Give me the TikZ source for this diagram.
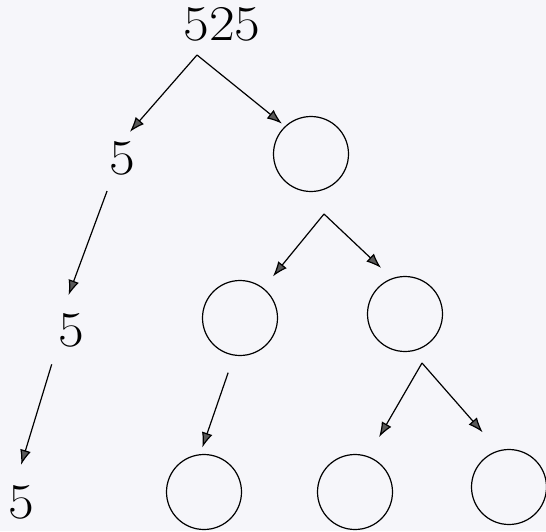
\documentclass[tikz,border=0pt]{standalone}
\usepackage{fontspec}
\setmainfont{Latin Modern Roman}[FakeStretch=1.12]
\usepackage{xcolor}
\usetikzlibrary{arrows.meta}
\definecolor{paper}{RGB}{246,246,250}
\tikzset{
  num/.style={inner sep=0pt, font=\fontsize{50}{60}\selectfont},
  blank/.style={draw, circle, minimum size=75pt, line width=1.2pt, inner sep=0pt},
  arr/.style={line width=1.2pt, -{Latex[length=15pt,width=11pt,fill=black!65]}},
}
\begin{document}
\begin{tikzpicture}[x=1pt,y=-1pt]
\fill[paper] (0,0) rectangle (546,531);
\useasboundingbox (0,0) rectangle (546,531);
% numbers
\node[num] (top) at (222,24) {525};
\foreach \n/\x/\y in {f1/122/158,f2/71/330,f3/21/502}{
    \node[num] (\n) at (\x,\y) {5};
}
% empty circles
\foreach \n/\x/\y in {c1/311/154,c2/240/318,c3/405/314,c4/204/492,c5/355/492,c6/509/487}{
    \node[blank] (\n) at (\x,\y) {};
}
% forks
\coordinate (k1) at (197,55);
\coordinate (k2) at (324,214);
\coordinate (k3) at (422,363);
\draw[arr, shorten >=12pt] (k1) -- (f1.north);
\draw[arr, shorten >=4pt] (k1) -- (c1.133);
\draw[arr, shorten <=17pt, shorten >=19pt] ([xshift=4pt]f1.south west) -- ([xshift=4pt]f2.north west);
\draw[arr, shorten <=18pt, shorten >=21pt] ([xshift=-1pt]f2.south west) -- ([xshift=-6pt]f3.north);
\draw[arr, shorten >=15pt] (k2) -- (c2.52);
\draw[arr, shorten >=15pt] (k2) -- (c3.110);
\draw[arr, shorten <=18pt, shorten >=7pt] (c2.261) -- (c4.96);
\draw[arr, shorten >=22pt] (k3) -- (c5.70);
\draw[arr, shorten >=24pt] (k3) -- (c6.106);
\end{tikzpicture}
\end{document}
